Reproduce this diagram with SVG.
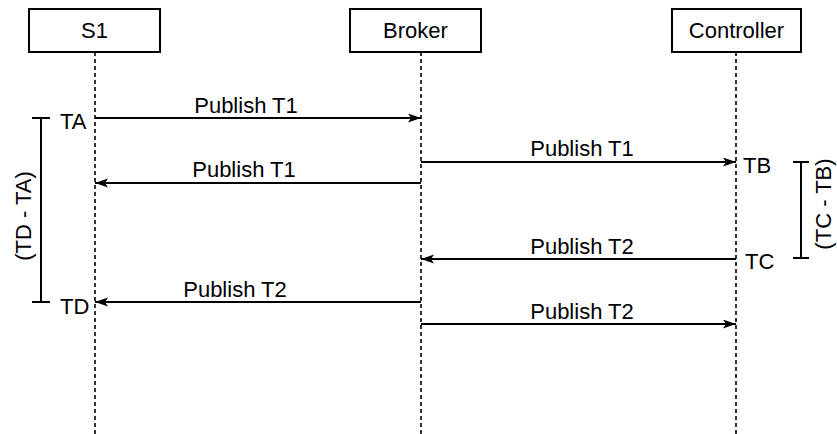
<svg xmlns="http://www.w3.org/2000/svg" width="837" height="434" viewBox="0 0 837 434">
<style>
.box{fill:#fff;stroke:#000;stroke-width:2}
.life{stroke:#000;stroke-width:1.6;stroke-dasharray:4 3;fill:none}
.msg{stroke:#000;stroke-width:2;fill:none;marker-end:url(#ah)}
.br{stroke:#000;stroke-width:2;fill:none}
text{font-family:"Liberation Sans",Arial,sans-serif;font-size:22px;fill:#000}
.c{text-anchor:middle}
</style>
<defs>
<marker id="ah" markerWidth="14" markerHeight="10" refX="13" refY="4.5" orient="auto" markerUnits="userSpaceOnUse">
<path d="M0,0 L13,4.5 L0,9 L3,4.5 z" fill="#000"/>
</marker>
</defs>
<rect width="837" height="434" fill="#fff"/>
<g id="lifelines">
<line class="life" x1="95" y1="52" x2="95" y2="434"/>
<line class="life" x1="421" y1="52" x2="421" y2="434"/>
<line class="life" x1="736" y1="52" x2="736" y2="434"/>
</g>
<g id="S1">
<rect class="box" x="29" y="9" width="131" height="43"/>
<text class="c" x="94.5" y="38">S1</text>
</g>
<g id="Broker">
<rect class="box" x="350" y="9" width="131" height="43"/>
<text class="c" x="415.5" y="38">Broker</text>
</g>
<g id="Controller">
<rect class="box" x="672" y="9" width="129" height="43"/>
<text class="c" x="736.5" y="38">Controller</text>
</g>
<g id="connectors">
<line class="msg" x1="95" y1="118" x2="421" y2="118"/>
<line class="msg" x1="421" y1="162" x2="736" y2="162"/>
<line class="msg" x1="421" y1="183" x2="95" y2="183"/>
<line class="msg" x1="736" y1="259" x2="421" y2="259"/>
<line class="msg" x1="421" y1="302" x2="95" y2="302"/>
<line class="msg" x1="421" y1="324" x2="736" y2="324"/>
</g>
<g id="labels">
<text class="c" x="246" y="113">Publish T1</text>
<text class="c" x="582" y="156">Publish T1</text>
<text class="c" x="244" y="177">Publish T1</text>
<text class="c" x="582" y="254">Publish T2</text>
<text class="c" x="235" y="297">Publish T2</text>
<text class="c" x="582" y="319">Publish T2</text>
<text x="60" y="129">TA</text>
<text x="60" y="314">TD</text>
<text x="743" y="173">TB</text>
<text x="745" y="269">TC</text>
</g>
<g id="brackets">
<path class="br" d="M32,118 H50 M41,118 V302 M32,302 H50"/>
<path class="br" d="M793,162 H809 M801,162 V258 M793,258 H809"/>
<text class="c" transform="translate(31,216) rotate(-90)">(TD - TA)</text>
<text class="c" transform="translate(831,204) rotate(-90)">(TC - TB)</text>
</g>
</svg>
